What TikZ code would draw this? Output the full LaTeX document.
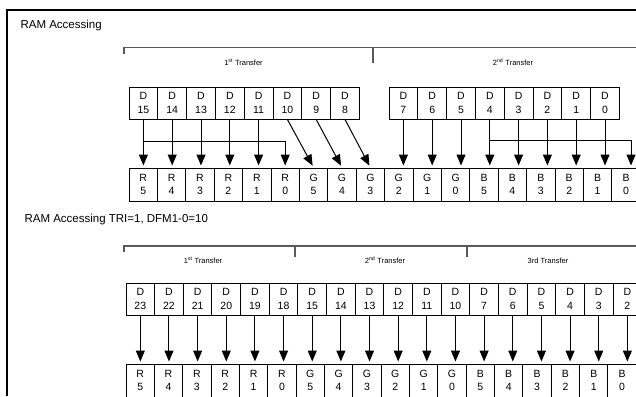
\documentclass[tikz,border=0pt]{standalone}
\usepackage{fontspec}
\setmainfont{Liberation Sans}
\usetikzlibrary{arrows.meta}

\tikzset{
  case/.style={draw, line width=1pt, inner sep=0pt, align=center,
    minimum height=32pt, font=\fontsize{10.5}{13.5}\selectfont},
  fleche/.style={line width=1pt, -{Triangle[width=9pt,length=11pt]},
    shorten >=2pt},
  crochet/.style={draw=black!65, line width=1.2pt},
  transfert/.style={font=\fontsize{7.5}{9}\selectfont},
  titre/.style={anchor=west, font=\fontsize{11.5}{13}\selectfont},
}

\begin{document}
\begin{tikzpicture}[x=1pt, y=-1pt]
  \useasboundingbox (0,0) rectangle (636,396);
  % Cadre
  \draw[line width=2.5pt] (7,396) -- (7,10) -- (636,10);

  % RAM Accessing
  \node[titre] (titre-a) at (17,26) {RAM Accessing};
  % Crochet des transferts
  \draw[crochet] (124,54) -- (124,47.5) -- (636,47.5);
  \draw[crochet] (373,47.5) -- (373,63);
  \node[transfert] (tr-a1) at (243.5,62) {1\textsuperscript{st} Transfer};
  \node[transfert] (tr-a2) at (513,62) {2\textsuperscript{nd} Transfer};

  % Donnees D15-D8
  \foreach \n [count=\i from 0] in {15,14,13,12,11,10,9,8}
    \node[case, minimum width=28.8pt] (a-D\n)
      at ({129+28.8*(\i+0.5)},103) {D\\\n};
  % Donnees D7-D0
  \foreach \n [count=\i from 0] in {7,6,5,4,3,2,1,0}
    \node[case, minimum width=28.8pt] (a-D\n)
      at ({389+28.8*(\i+0.5)},103) {D\\\n};
  % Pixels R5-B0
  \foreach \c [count=\k from 0] in {R,G,B}
    \foreach \n [count=\j from 0] in {5,4,3,2,1,0}
      \node[case, minimum width=28.4pt, minimum height=33pt] (a-\c\n)
        at ({129+28.4*(6*\k+\j+0.5)},184.5) {\c\\\n};

  % Fleches droites
  \foreach \s/\t in {15/R5,14/R4,13/R3,12/R2,11/R1,
                     7/G2,6/G1,5/G0,4/B5,3/B4,2/B3,1/B2,0/B1}
    \draw[fleche] (a-D\s.south) -- (a-D\s.south |- a-\t.north);
  % Fleches obliques
  \foreach \s/\t in {10/G5,9/G4,8/G3}
    \draw[fleche] (a-D\s.south) -- (a-\t.north);
  % Derivations vers R0 et B0
  \draw[fleche] ([yshift=-22pt]a-D15.south) -| (a-R0.north);
  \draw[fleche] ([yshift=-21pt]a-D4.south) -| ([xshift=5pt]a-B0.north);

  % RAM Accessing TRI=1, DFM1-0=10
  \node[titre] (titre-b) at (21,220) {RAM Accessing TRI=1, DFM1-0=10};
  % Crochet des transferts
  \draw[crochet] (124,252) -- (124,246) -- (636,246);
  \draw[crochet] (295,246) -- (295,257);
  \draw[crochet] (467,246) -- (467,257);
  \node[transfert] (tr-b1) at (203,260.5) {1\textsuperscript{st} Transfer};
  \node[transfert] (tr-b2) at (385,260.5) {2\textsuperscript{nd} Transfer};
  \node[transfert] (tr-b3) at (548,261) {3rd Transfer};

  % Donnees D23-D2
  \foreach \n [count=\i from 0] in {23,22,21,20,19,18,15,14,13,12,11,10,7,6,5,4,3,2}
    \node[case, minimum width=28.65pt] (b-D\n)
      at ({126+28.65*(\i+0.5)},299) {D\\\n};
  % Pixels R5-B0
  \foreach \c [count=\k from 0] in {R,G,B}
    \foreach \n [count=\j from 0] in {5,4,3,2,1,0}
      \node[case, minimum width=28.35pt, minimum height=33pt] (b-\c\n)
        at ({126+28.35*(6*\k+\j+0.5)},380.5) {\c\\\n};

  % Fleches
  \foreach \s/\t in {23/R5,22/R4,21/R3,20/R2,19/R1,18/R0,
                     15/G5,14/G4,13/G3,12/G2,11/G1,10/G0,
                     7/B5,6/B4,5/B3,4/B2,3/B1,2/B0}
    \draw[fleche] (b-D\s.south) -- (b-D\s.south |- b-\t.north);
\end{tikzpicture}
\end{document}
